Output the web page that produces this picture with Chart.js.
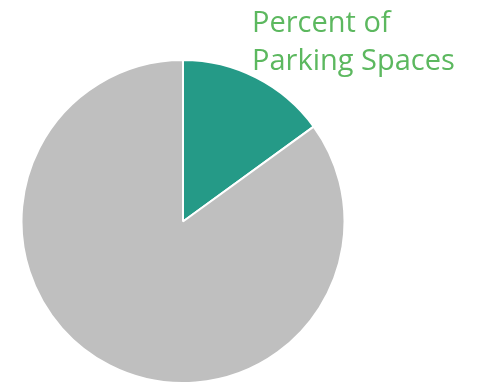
<!DOCTYPE html>
<html lang="en">

<head>
    <meta charset="UTF-8">
    <title>Percent of Parking Spaces</title>
    <style>
        html, body {
            margin: 0;
            padding: 0;
            background: #fff;
        }
    </style>
</head>

<body>
    <div style="width: 478px; height: 384px;">
        <canvas id="myChart"></canvas>
    </div>

    <script src="https://cdn.jsdelivr.net/npm/chart.js"></script>

    <script>
        const categories = ['Share A', 'Share B'];
        const shareValues = [15, 85];
        const sliceColors = ['#259A87', '#BFBFBF'];
        const titleLines = ['Percent of', 'Parking Spaces'];

        // title sits over the top right corner, partly next to the pie
        const cornerTitle = {
            id: 'cornerTitle',
            afterDraw(chart) {
                const c = chart.ctx;
                c.save();
                c.fillStyle = '#5CB85F';
                c.font = '29px "Open Sans", sans-serif';
                c.textBaseline = 'alphabetic';
                c.fillText(titleLines[0], 252, 32);
                c.fillText(titleLines[1], 252, 70);
                c.restore();
            }
        };

        const ctx = document.getElementById('myChart');

        var myChart = new Chart(ctx, {
            type: 'pie',
            data: {
                labels: categories,
                datasets: [{
                    data: shareValues,
                    backgroundColor: sliceColors,
                    borderColor: '#ffffff',
                    borderWidth: 2
                }]
            },
            options: {
                responsive: true,
                maintainAspectRatio: false,
                animation: false,
                layout: {
                    padding: { top: 59, left: 20, right: 132, bottom: -1 }
                },
                plugins: {
                    legend: { display: false },
                    tooltip: { enabled: false }
                }
            },
            plugins: [cornerTitle]
        });
    </script>

</body>

</html>
